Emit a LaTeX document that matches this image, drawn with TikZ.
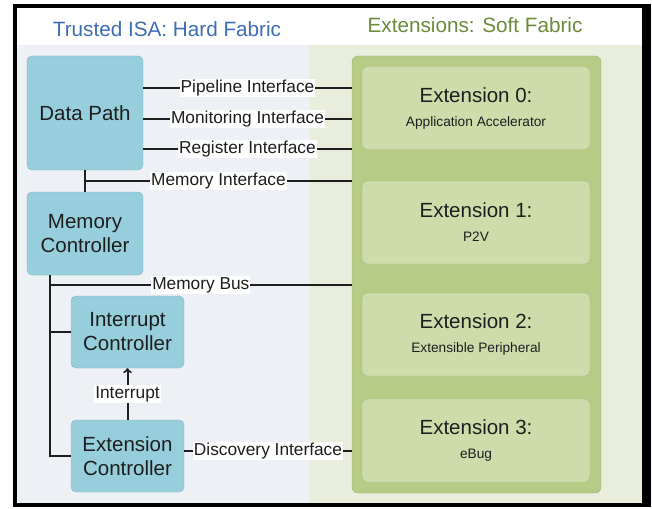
\documentclass[tikz,border=0pt]{standalone}
\usepackage{fontspec}
\setmainfont{Liberation Sans}
\usetikzlibrary{calc}
\definecolor{hardblue}{HTML}{97CEDC}
\definecolor{hardedge}{HTML}{7FB4C3}
\definecolor{hardbg}{HTML}{EDF0F5}
\definecolor{softbg}{HTML}{E9EEDC}
\definecolor{softgreen}{HTML}{B5CB86}
\definecolor{softedge}{HTML}{9CB371}
\definecolor{extgreen}{HTML}{CCDCAB}
\definecolor{extedge}{HTML}{A8BE86}
\definecolor{hardtitle}{HTML}{3D6DB3}
\definecolor{softtitle}{HTML}{6B8A3A}
\definecolor{ink}{HTML}{1E1E1E}
\newcommand\extsub{\fontsize{13.7}{16}\selectfont}
\begin{document}
\begin{tikzpicture}[x=1pt, y=-1pt,
    hard/.style={draw=hardedge, fill=hardblue, rounded corners=5pt, align=center, text=ink, font=\fontsize{20.5}{24}\selectfont},
    ext/.style={draw=extedge, fill=extgreen, rounded corners=5pt, minimum width=228pt, minimum height=83pt, align=center, text=ink, font=\fontsize{20.5}{24}\selectfont},
    wire/.style={line width=2pt, draw=ink},
    tag/.style={fill=white, inner sep=1pt, text=ink, font=\fontsize{17.3}{20}\selectfont}]
    \useasboundingbox (0,0) rectangle (652,508);
    \fill (13,4) rectangle (651,507);
    \fill[white] (17,8) rectangle (642,45);
    \fill[hardbg] (17,45) rectangle (310,503);
    \fill[softbg] (310,45) rectangle (642,503);
    \node[text=hardtitle, font=\fontsize{20.7}{24}\selectfont] (hardhead) at (167,29) {Trusted ISA: Hard Fabric};
    \node[text=softtitle, font=\fontsize{20.7}{24}\selectfont] (softhead) at (475,25) {Extensions: Soft Fabric};
    \node[hard, minimum width=116pt, minimum height=114pt] (dp) at (85,113) {Data Path};
    \node[hard, minimum width=116pt, minimum height=83pt] (mc) at (85,233.5) {Memory\\Controller};
    \node[hard, minimum width=113pt, minimum height=72pt] (ic) at (127.5,332) {Interrupt\\Controller};
    \node[hard, minimum width=113pt, minimum height=72pt] (ec) at (127.5,456) {Extension\\Controller};
    \node[draw=softedge, fill=softgreen, rounded corners=6pt, minimum width=249pt, minimum height=437pt] (soft) at (476.5,274.5) {};
    \node[ext] (e0) at (476,108) {Extension 0:\\{\extsub Application Accelerator}};
    \node[ext] (e1) at (476,222.5) {Extension 1:\\{\extsub P2V}};
    \node[ext] (e2) at (476,334.5) {Extension 2:\\{\extsub Extensible Peripheral}};
    \node[ext] (e3) at (476,440.5) {Extension 3:\\{\extsub eBug}};
    \coordinate (memif) at ($(dp.south)!0.5!(mc.north)$);
    \coordinate (bus) at ([xshift=23pt]mc.south west);
    \draw[wire] ([yshift=25pt]dp.east) -- node[tag] {Pipeline Interface} ([yshift=25pt]dp.east -| soft.west);
    \draw[wire] ([yshift=-6pt]dp.east) -- node[tag] {Monitoring Interface} ([yshift=-6pt]dp.east -| soft.west);
    \draw[wire] ([yshift=-36pt]dp.east) -- node[tag] {Register Interface} ([yshift=-36pt]dp.east -| soft.west);
    \draw[wire] (dp) -- (mc);
    \draw[wire] (memif) -- node[tag] {Memory Interface} (memif -| soft.west);
    \draw[wire] (bus) |- (ec.west);
    \draw[wire] (bus |- ic.west) -- (ic.west);
    \draw[wire] ([yshift=-10pt]bus) -- node[tag] {Memory Bus} ([yshift=-10pt]bus -| soft.west);
    \draw[wire, ->] (ec) -- node[tag] {Interrupt} (ic);
    \draw[wire] ([yshift=5pt]ec.east) -- node[tag] {Discovery Interface} ([yshift=5pt]ec.east -| soft.west);
\end{tikzpicture}
\end{document}
